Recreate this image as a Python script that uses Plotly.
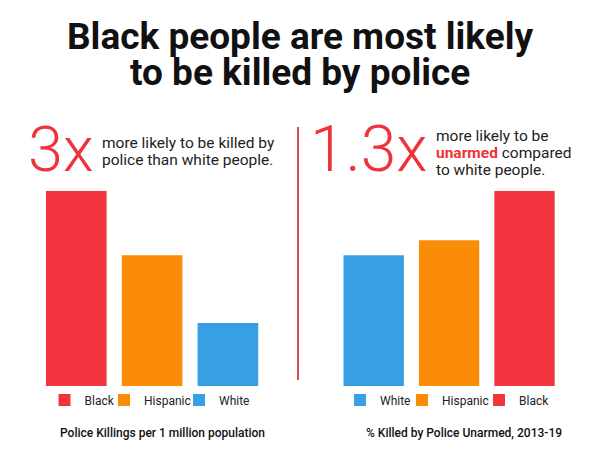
import plotly.graph_objects as go

# left panel: police killings per 1 million population
left_groups = ["Black", "Hispanic", "White"]
left_values = [6.2, 4.15, 2.0]

# right panel: % killed by police who were unarmed, 2013-19
right_groups = ["White", "Hispanic", "Black"]
right_values = [13.0, 14.5, 19.4]

colors = {"Black": "#F2353F", "Hispanic": "#FA8C07", "White": "#389FE5"}
RED = "#F0333A"
FONT = "Roboto"

# where each legend entry starts (px from the left)
left_legend_px = [44.5, 104, 179]
right_legend_px = [340, 402, 479]

fig = go.Figure()

hidden = dict(showgrid=False, zeroline=False, showticklabels=False,
              showline=False, fixedrange=True)

legend_style = dict(orientation="h", yanchor="middle", y=1 - 400 / 450,
                    xanchor="left",
                    font=dict(family=FONT, size=12, color="#222"),
                    bgcolor="rgba(0,0,0,0)", itemclick=False)
legends = {}

n = 0
for axis, groups, values, legend_px in [("", left_groups, left_values, left_legend_px),
                                        ("2", right_groups, right_values, right_legend_px)]:
    for g, v, px in zip(groups, values, legend_px):
        n += 1
        lg = "legend" if n == 1 else f"legend{n}"
        legends[lg] = dict(x=px / 600, **legend_style)
        fig.add_trace(go.Bar(x=[g], y=[v], name=g, marker_color=colors[g],
                             marker_line_width=0, width=0.8,
                             xaxis="x" + axis, yaxis="y" + axis, legend=lg))

fig.update_layout(
    width=600, height=450,
    margin=dict(l=0, r=0, t=0, b=0),
    paper_bgcolor="white", plot_bgcolor="white",
    barmode="overlay",
    xaxis=dict(domain=[0.064, 0.443], categoryorder="array",
               categoryarray=left_groups, **hidden),
    yaxis=dict(domain=[0.142, 0.576], range=[0, max(left_values)], **hidden),
    xaxis2=dict(domain=[0.56, 0.937], categoryorder="array",
                categoryarray=right_groups, anchor="y2", **hidden),
    yaxis2=dict(domain=[0.142, 0.576], range=[0, max(right_values)],
                anchor="x2", **hidden),
    showlegend=True,
    **legends,
)

# divider between the two panels
fig.add_shape(type="line", xref="paper", yref="paper",
              x0=0.4967, x1=0.4967, y0=1 - 380 / 450, y1=1 - 127 / 450,
              line=dict(color="#DA4A4E", width=2))

notes = [
    # title
    dict(x=0.5, y=1 - 37 / 450, text="<b>Black people are most likely</b>",
         xanchor="center", font=dict(size=37, color="#111")),
    dict(x=0.5, y=1 - 72 / 450, text="<b>to be killed by police</b>",
         xanchor="center", font=dict(size=37, color="#111")),
    # big multipliers
    dict(x=26 / 600, y=1 - 150 / 450, text="3x", xanchor="left",
         font=dict(size=63, color=RED, weight=300)),
    dict(x=308 / 600, y=1 - 150 / 450, text="1.3x", xanchor="left",
         font=dict(size=64, color=RED, weight=300)),
    # left blurb
    dict(x=100 / 600, y=1 - 143 / 450, text="more likely to be killed by",
         xanchor="left", font=dict(size=15.5, color="#222")),
    dict(x=100 / 600, y=1 - 160 / 450, text="police than white people.",
         xanchor="left", font=dict(size=15.5, color="#222")),
    # right blurb
    dict(x=434 / 600, y=1 - 136 / 450, text="more likely to be",
         xanchor="left", font=dict(size=15.5, color="#222")),
    dict(x=434 / 600, y=1 - 153 / 450,
         text=f"<b><span style='color:{RED}'>unarmed</span></b> compared",
         xanchor="left", font=dict(size=15.5, color="#222")),
    dict(x=434 / 600, y=1 - 170 / 450, text="to white people.",
         xanchor="left", font=dict(size=15.5, color="#222")),
    # captions
    dict(x=162 / 600, y=1 - 433 / 450,
         text="Police Killings per 1 million population",
         xanchor="center", font=dict(size=12, color="#111", weight=500)),
    dict(x=464 / 600, y=1 - 433 / 450,
         text="% Killed by Police Unarmed, 2013-19",
         xanchor="center", font=dict(size=12, color="#111", weight=500)),
]
for note in notes:
    note["font"]["family"] = FONT
    fig.add_annotation(xref="paper", yref="paper", showarrow=False,
                       yanchor="middle", **note)

# drop the page's default body margin so the figure sits at the top-left corner
fig.write_html("out.html", config={"displayModeBar": False},
               post_script="document.body.style.margin = '0';")
